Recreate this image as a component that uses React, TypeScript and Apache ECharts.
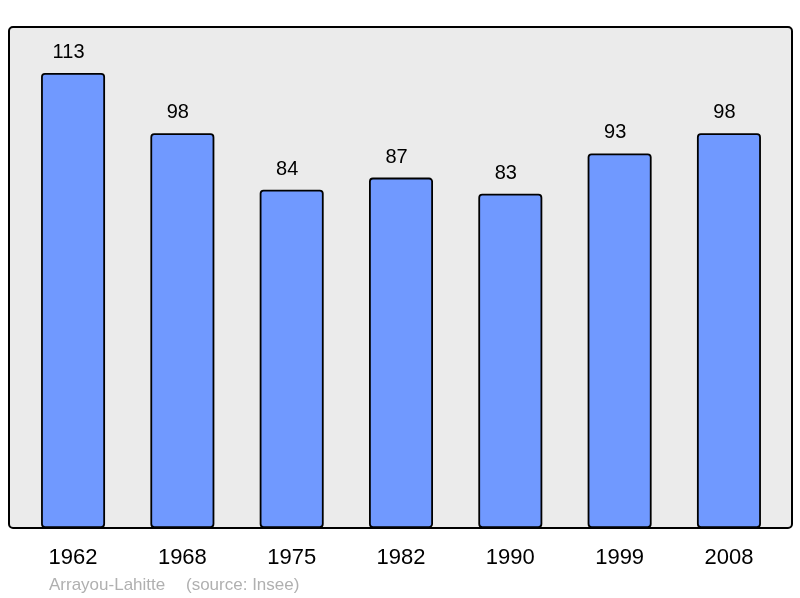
import React, { useEffect, useRef } from "react";
import * as echarts from "echarts";

const years = ["1962", "1968", "1975", "1982", "1990", "1999", "2008"];
const population = [113, 98, 84, 87, 83, 93, 98];
const commune = "Arrayou-Lahitte";
const source = "(source: Insee)";

export default function App() {
  const ref = useRef<HTMLDivElement>(null);
  useEffect(() => {
    document.body.style.margin = "0";
    const chart = echarts.init(ref.current!, null, { renderer: "svg" });
    const font = "'Liberation Sans', Arial, sans-serif";
    chart.setOption({
      animation: false,
      textStyle: { fontFamily: font },
      grid: { left: 18.4, right: 16.4, top: 27, bottom: 70, containLabel: false },
      graphic: [
        {
          type: "rect",
          z: -10,
          shape: { x: 9, y: 27, width: 783, height: 501, r: 4 },
          style: { fill: "#ebebeb", stroke: "#000", lineWidth: 2 },
        },
        {
          type: "text",
          x: 49,
          y: 584,
          style: { text: commune, fill: "#b0b0b0", font: `17px ${font}`, verticalAlign: "middle" },
        },
        {
          type: "text",
          x: 186,
          y: 584,
          style: { text: source, fill: "#b0b0b0", font: `17px ${font}`, verticalAlign: "middle" },
        },
      ],
      xAxis: {
        type: "category",
        data: years,
        axisLine: { show: false },
        axisTick: { show: false },
        axisLabel: { fontSize: 22, color: "#000", margin: 17, fontFamily: font },
      },
      yAxis: {
        type: "value",
        min: 0,
        max: 124.4,
        show: false,
        splitLine: { show: false },
      },
      series: [
        {
          type: "bar",
          data: population,
          barWidth: 64,
          itemStyle: {
            color: "#7099ff",
            borderColor: "#000",
            borderWidth: 1.8,
            borderRadius: 3,
          },
          label: {
            show: true,
            position: "top",
            distance: 12,
            offset: [-4.5, 0],
            fontSize: 20,
            color: "#000",
            fontFamily: font,
          },
        },
      ],
    });
    return () => chart.dispose();
  }, []);
  return <div ref={ref} style={{ width: 800, height: 598, position: "fixed", left: 0, top: 0 }} />;
}
